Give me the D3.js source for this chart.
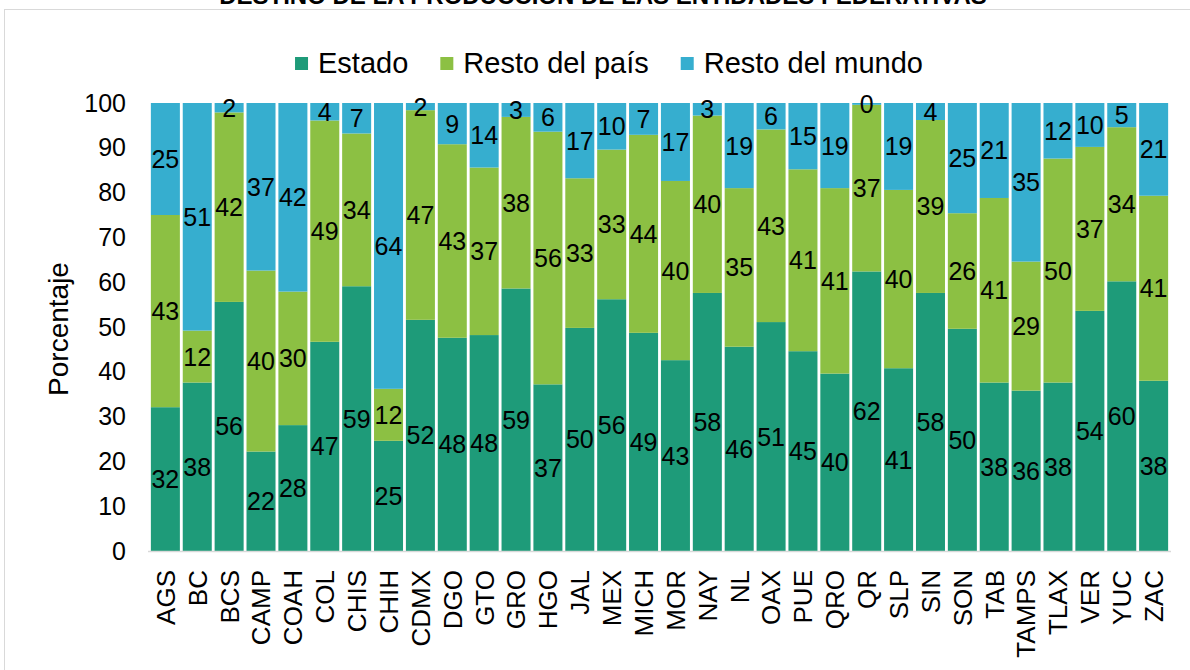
<!DOCTYPE html>
<html>
<head>
<meta charset="utf-8">
<script src="https://cdn.jsdelivr.net/npm/d3@7"></script>
<style>
  body { margin: 0; background: #fff; }
  svg { font-family: "Liberation Sans", Arial, sans-serif; }
</style>
</head>
<body>
<svg id="chart"></svg>
<script>
// entidades federativas
const estados = ["AGS", "BC", "BCS", "CAMP", "COAH", "COL", "CHIS", "CHIH", "CDMX", "DGO", "GTO", "GRO",
  "HGO", "JAL", "MEX", "MICH", "MOR", "NAY", "NL", "OAX", "PUE", "QRO", "QR", "SLP", "SIN", "SON",
  "TAB", "TAMPS", "TLAX", "VER", "YUC", "ZAC"];

// porcentajes
const estado = [32.1, 37.6, 55.6, 22.2, 28.1, 46.7, 59.1, 24.6, 51.6, 47.6, 48.2, 58.6,
  37.2, 49.8, 56.2, 48.7, 42.6, 57.6, 45.6, 51.1, 44.6, 39.6, 62.4, 40.8, 57.6, 49.6,
  37.6, 35.8, 37.6, 53.6, 60.2, 38.0];
const restoPais = [42.9, 11.6, 42.3, 40.4, 29.8, 49.4, 34.1, 11.6, 46.8, 43.2, 37.4, 38.3,
  56.4, 33.4, 33.4, 44.2, 40.0, 39.6, 35.4, 43.0, 40.6, 41.4, 37.2, 39.8, 38.6, 25.8,
  41.2, 28.8, 50.0, 36.6, 34.4, 41.3];
const restoMundo = [25.0, 50.8, 2.1, 37.4, 42.1, 3.9, 6.8, 63.8, 1.6, 9.2, 14.4, 3.1,
  6.4, 16.8, 10.4, 7.1, 17.4, 2.8, 19.0, 5.9, 14.8, 19.0, 0.4, 19.4, 3.8, 24.6,
  21.2, 35.4, 12.4, 9.8, 5.4, 20.7];

const seriesNames = ["Estado", "Resto del país", "Resto del mundo"];
const yTicks = [0, 10, 20, 30, 40, 50, 60, 70, 80, 90, 100];

const width = 1190;
const height = 670;
const colors = ["#1e9b79", "#8cc043", "#36aecf"];

const rows = estados.map((e, i) => ({
  ent: e,
  "Estado": estado[i],
  "Resto del país": restoPais[i],
  "Resto del mundo": restoMundo[i]
}));

const svg = d3.select("#chart").attr("width", width).attr("height", height);

// marco del grafico
svg.append("rect")
  .attr("x", 4.5).attr("y", 9.5)
  .attr("width", 1200).attr("height", 700)
  .attr("fill", "none").attr("stroke", "#d9d9d9");

// titulo (cortado en la parte superior)
svg.append("text")
  .attr("x", 603).attr("y", 4)
  .attr("text-anchor", "middle")
  .style("font-size", "24px").style("font-weight", "bold")
  .text("DESTINO DE LA PRODUCCIÓN DE LAS ENTIDADES FEDERATIVAS");

const x = d3.scaleBand().domain(estados).range([148, 1171]).padding(0.09);
const y = d3.scaleLinear().domain([0, 100]).range([551, 103]);

const stack = d3.stack().keys(seriesNames);
const stacked = stack(rows);

const layers = svg.selectAll("g.layer")
  .data(stacked)
  .enter()
  .append("g")
  .attr("class", "layer")
  .attr("fill", (d, i) => colors[i]);

layers.selectAll("rect")
  .data((d) => d)
  .enter()
  .append("rect")
  .attr("x", (d) => x(d.data.ent))
  .attr("y", (d) => y(d[1]))
  .attr("width", x.bandwidth())
  .attr("height", (d) => y(d[0]) - y(d[1]));

// eje x (linea gris)
svg.append("line")
  .attr("x1", 148).attr("x2", 1171)
  .attr("y1", 551.5).attr("y2", 551.5)
  .attr("stroke", "#d9d9d9").attr("stroke-width", 1.5);

// etiquetas de datos
layers.selectAll("text")
  .data((d) => d)
  .enter()
  .append("text")
  .attr("x", (d) => x(d.data.ent) + x.bandwidth() / 2)
  .attr("y", (d) => (y(d[0]) + y(d[1])) / 2)
  .attr("dy", "0.36em")
  .attr("text-anchor", "middle")
  .attr("fill", "#000")
  .style("font-size", "25px")
  .text((d) => d3.format(".0f")(d[1] - d[0]));

// eje y
const yAxis = svg.append("g")
  .attr("transform", "translate(136,0)")
  .call(d3.axisLeft(y).tickValues(yTicks).tickSize(0).tickPadding(10));
yAxis.select(".domain").remove();
yAxis.selectAll("text")
  .style("font-size", "25px")
  .style("font-family", "Liberation Sans, Arial, sans-serif")
  .attr("fill", "#000");

// eje x etiquetas
const xAxis = svg.append("g")
  .attr("transform", "translate(0,551)")
  .call(d3.axisBottom(x).tickSize(0).tickPadding(0));
xAxis.select(".domain").remove();
xAxis.selectAll("text")
  .attr("transform", "rotate(-90)")
  .attr("text-anchor", "end")
  .attr("x", -19)
  .attr("y", 0)
  .attr("dy", "0.36em")
  .style("font-size", "26px")
  .style("font-family", "Liberation Sans, Arial, sans-serif")
  .attr("fill", "#000");

// titulo eje y
svg.append("text")
  .attr("transform", "translate(68,329) rotate(-90)")
  .attr("text-anchor", "middle")
  .style("font-size", "28px")
  .text("Porcentaje");

// leyenda
const legend = svg.append("g");
let lx = 0;
seriesNames.forEach((name, i) => {
  const item = legend.append("g").attr("transform", `translate(${lx},0)`);
  item.append("rect")
    .attr("x", 0).attr("y", 57)
    .attr("width", 13).attr("height", 13)
    .attr("fill", colors[i]);
  const t = item.append("text")
    .attr("x", 23).attr("y", 73)
    .style("font-size", "29px")
    .text(name);
  lx += 23 + t.node().getComputedTextLength() + 32;
});
const legW = lx - 32;
legend.attr("transform", `translate(${609 - legW / 2},0)`);
</script>
</body>
</html>
